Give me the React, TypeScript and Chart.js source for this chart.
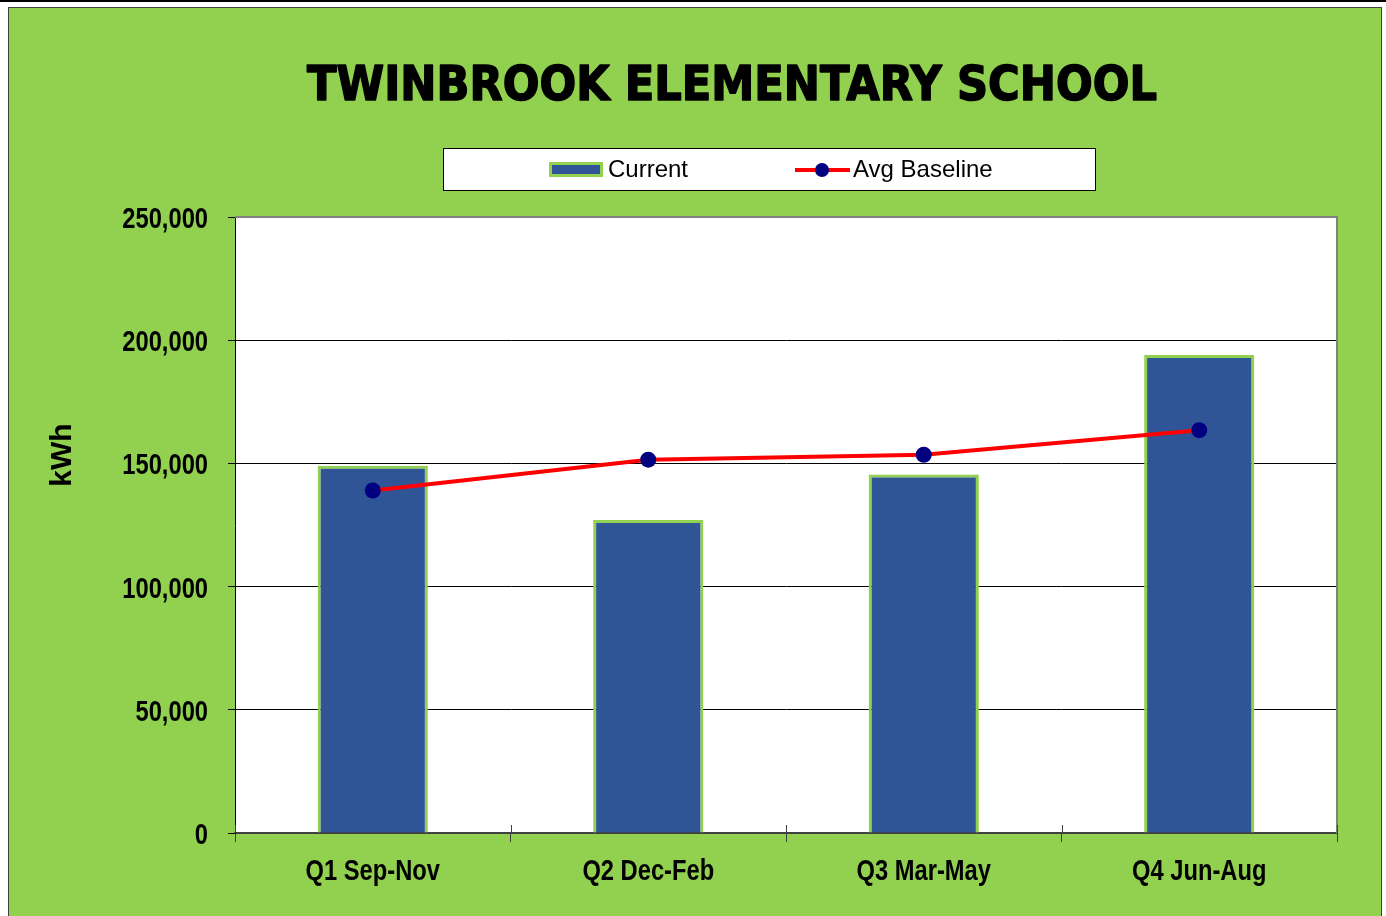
import React, { useEffect, useRef } from "react";
import { Chart, registerables } from "chart.js";

Chart.register(...registerables);

const TITLE = "TWINBROOK ELEMENTARY SCHOOL";
const Y_TITLE = "kWh";
const categories = ["Q1 Sep-Nov", "Q2 Dec-Feb", "Q3 Mar-May", "Q4 Jun-Aug"];
const currentValues = [149000, 127000, 145500, 194000];
const baselineValues = [139000, 151500, 153500, 163500];
const yTicks = [0, 50000, 100000, 150000, 200000, 250000];

const GREEN = "#92D050";
const BAR_BLUE = "#2F5597";
const NAVY = "#000080";
const RED = "#FF0000";
const SANS = "'Liberation Sans', Arial, sans-serif";
const NARROW_SCALE = 0.79;

function drawNarrow(ctx: any, text: string, x: number, y: number, align: "left" | "center" | "right") {
  const w = ctx.measureText(text).width * NARROW_SCALE;
  let left = x;
  if (align === "center") left = x - w / 2;
  else if (align === "right") left = x - w;
  ctx.save();
  ctx.translate(left, y);
  ctx.scale(NARROW_SCALE, 1);
  ctx.textAlign = "left";
  ctx.fillText(text, 0, 0);
  ctx.restore();
}

const decorPlugin = {
  id: "decor",
  beforeDraw(chart: any) {
    const { ctx, chartArea: a } = chart;
    ctx.save();
    ctx.fillStyle = "#FFFFFF";
    ctx.fillRect(a.left, a.top, a.right - a.left, a.bottom - a.top);
    ctx.restore();
  },
  afterDraw(chart: any) {
    const { ctx, chartArea: a } = chart;
    const xs = chart.scales.x;
    const ys = chart.scales.y;
    ctx.save();
    // plot border (top and right, grey)
    ctx.strokeStyle = "#808080";
    ctx.lineWidth = 2;
    ctx.beginPath();
    ctx.moveTo(a.left, a.top);
    ctx.lineTo(a.right, a.top);
    ctx.lineTo(a.right, a.bottom);
    ctx.stroke();
    // inward parts of x tick marks
    ctx.strokeStyle = "#404040";
    ctx.lineWidth = 1;
    const n = chart.data.labels.length;
    for (let i = 0; i <= n; i++) {
      const px = Math.round(a.left + ((a.right - a.left) * i) / n) + 0.5;
      ctx.beginPath();
      ctx.moveTo(px, a.bottom - 8);
      ctx.lineTo(px, a.bottom);
      ctx.stroke();
    }

    // axis tick labels (condensed bold)
    ctx.fillStyle = "#000";
    ctx.font = `bold 30px ${SANS}`;
    ctx.textBaseline = "alphabetic";
    chart.data.labels.forEach((lab: string, i: number) => {
      drawNarrow(ctx, lab, xs.getPixelForTick(i), a.bottom + 47, "center");
    });
    ys.ticks.forEach((t: any) => {
      const txt = Number(t.value).toLocaleString("en-US");
      drawNarrow(ctx, txt, a.left - 27, ys.getPixelForValue(t.value) + 11, "right");
    });

    // Title
    ctx.fillStyle = "#000";
    ctx.strokeStyle = "#000";
    ctx.font = "bold 48px 'DejaVu Sans', sans-serif";
    ctx.textBaseline = "alphabetic";
    ctx.textAlign = "left";
    const tw = ctx.measureText(TITLE).width;
    const targetW = 850;
    const sx = targetW / tw;
    ctx.save();
    ctx.translate(723 - targetW / 2, 92);
    ctx.scale(sx, 1);
    ctx.lineWidth = 1.6;
    ctx.lineJoin = "round";
    ctx.fillText(TITLE, 0, 0);
    ctx.strokeText(TITLE, 0, 0);
    ctx.restore();

    // Y axis title
    ctx.save();
    ctx.translate(54, 447);
    ctx.rotate(-Math.PI / 2);
    ctx.font = `bold 30px ${SANS}`;
    ctx.textAlign = "center";
    ctx.textBaseline = "middle";
    ctx.fillText(Y_TITLE, 0, 0);
    ctx.restore();

    // Legend box
    const ds = chart.data.datasets;
    ctx.fillStyle = "#FFFFFF";
    ctx.fillRect(434, 140, 652, 42);
    ctx.strokeStyle = "#000";
    ctx.lineWidth = 1;
    ctx.strokeRect(434.5, 140.5, 652, 42);
    const ly = 162;
    ctx.fillStyle = ds[0].borderColor;
    ctx.fillRect(540, 154, 54, 15);
    ctx.fillStyle = ds[0].backgroundColor;
    ctx.fillRect(543, 157, 48, 9);
    ctx.fillStyle = "#000";
    ctx.font = `24px ${SANS}`;
    ctx.textAlign = "left";
    ctx.textBaseline = "middle";
    ctx.fillText(ds[0].label, 599, ly);
    ctx.strokeStyle = ds[1].borderColor;
    ctx.lineWidth = 4;
    ctx.beginPath();
    ctx.moveTo(786, ly);
    ctx.lineTo(841, ly);
    ctx.stroke();
    ctx.fillStyle = ds[1].pointBackgroundColor;
    ctx.beginPath();
    ctx.arc(813, ly, 7, 0, Math.PI * 2);
    ctx.fill();
    ctx.fillStyle = "#000";
    ctx.fillText(ds[1].label, 844, ly);
    ctx.restore();
  },
};

export default function App() {
  const canvasRef = useRef<HTMLCanvasElement | null>(null);

  useEffect(() => {
    const canvas = canvasRef.current;
    if (!canvas) return;
    const chart = new Chart(canvas, {
      type: "bar",
      data: {
        labels: categories,
        datasets: [
          {
            type: "bar",
            label: "Current",
            data: currentValues,
            backgroundColor: BAR_BLUE,
            borderColor: GREEN,
            borderWidth: 3,
            barPercentage: 0.4,
            categoryPercentage: 1,
            order: 1,
          } as any,
          {
            type: "line",
            label: "Avg Baseline",
            data: baselineValues,
            borderColor: RED,
            borderWidth: 4,
            pointBackgroundColor: NAVY,
            pointBorderColor: NAVY,
            pointBorderWidth: 0,
            pointRadius: 8,
            tension: 0,
            order: 0,
          } as any,
        ],
      },
      options: {
        animation: false,
        responsive: false,
        maintainAspectRatio: false,
        layout: { padding: { top: 209, right: 44, left: 0, bottom: 0 } },
        plugins: {
          legend: { display: false },
          title: { display: false },
          tooltip: { enabled: false },
        },
        scales: {
          x: {
            offset: true,
            grid: {
              display: true,
              offset: true,
              drawOnChartArea: false,
              drawTicks: true,
              tickLength: 9,
              color: "#404040",
            },
            border: { display: true, color: "#404040", width: 2 },
            ticks: { display: false },
            afterFit: (scale: any) => {
              scale.height = 83;
            },
          },
          y: {
            min: yTicks[0],
            max: yTicks[yTicks.length - 1],
            afterBuildTicks: (scale: any) => {
              scale.ticks = yTicks.map((v) => ({ value: v }));
            },
            grid: {
              color: "#000",
              lineWidth: 1,
              tickLength: 7,
              tickColor: "#000",
            },
            border: { display: true, color: "#000", width: 1 },
            ticks: { display: false },
            afterFit: (scale: any) => {
              scale.width = 226;
            },
          },
        },
      },
      plugins: [decorPlugin],
    });
    return () => chart.destroy();
  }, []);

  return (
    <div style={{ position: "absolute", left: 0, top: 0, width: 1386, height: 916, background: "#fff", overflow: "hidden" }}>
      <div style={{ position: "absolute", left: 0, top: 0, width: 1386, height: 2, background: "#000" }} />
      <div
        style={{
          position: "absolute",
          left: 8,
          top: 7,
          width: 1372,
          height: 909,
          background: GREEN,
          borderLeft: "1px solid #404040",
          borderRight: "1px solid #404040",
          borderTop: "1px solid #404040",
        }}
      >
        <canvas ref={canvasRef} width={1372} height={908} style={{ display: "block", width: 1372, height: 908 }} />
      </div>
    </div>
  );
}
